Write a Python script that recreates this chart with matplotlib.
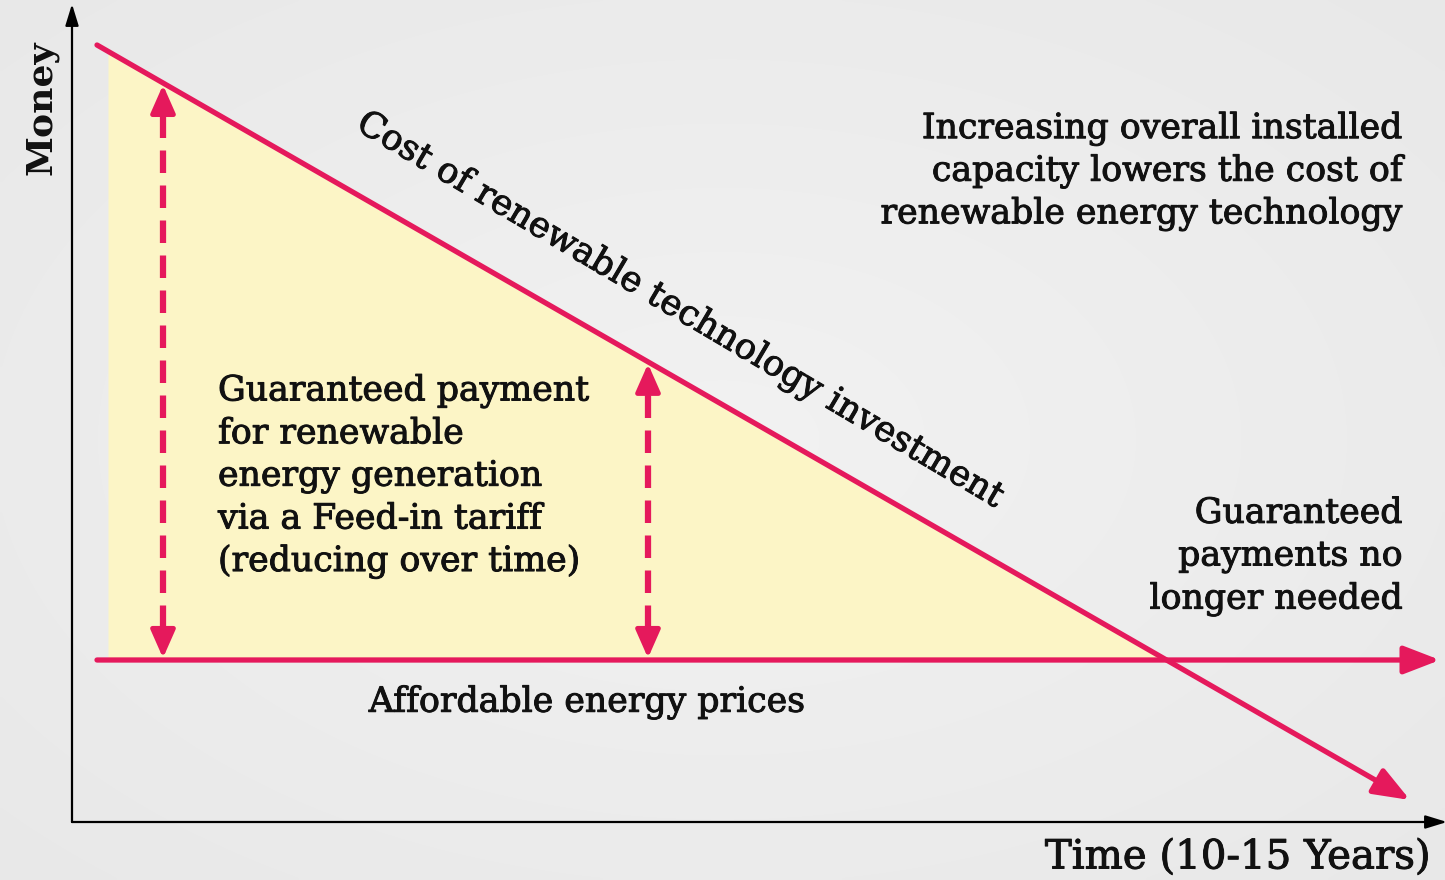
import matplotlib
matplotlib.use("Agg")
import matplotlib.pyplot as plt
import matplotlib.patheffects as pe
import numpy as np

# ---- data (time, money) in chart units; origin = axes origin ----
cost_time = [25, 1338]          # cost of renewable technology investment
cost_money = [777, 22]
price_time = [25, 1368]         # affordable energy price level
price_money = [162, 162]
fill_start_time = 36
payment_times = [91, 576]       # guaranteed payment arrows
x_max, y_max = 1373, 822

money_label = "Money"
time_label = "Time (10-15 Years)"
cost_label = "Cost of renewable technology investment"
capacity_text = "Increasing overall installed\ncapacity lowers the cost of\nrenewable energy technology"
payment_text = ("Guaranteed payment\nfor renewable\nenergy generation\n"
                "via a Feed-in tariff\n(reducing over time)")
no_longer_text = "Guaranteed\npayments no\nlonger needed"
price_label = "Affordable energy prices"

PINK = "#E5195C"
YELLOW = "#FCF5C6"
BG = "#EBEBEB"
FONT = "DejaVu Serif"

W, H = 1445, 880
fig = plt.figure(figsize=(W / 100, H / 100), dpi=100, facecolor=BG)

# subtle background gradient (lighter in the middle)
bg_ax = fig.add_axes([0, 0, 1, 1], zorder=-5)
gy, gx = np.mgrid[0:1:200j, 0:1:300j]
r = np.sqrt(((gx - 0.5) / 0.75) ** 2 + ((gy - 0.5) / 0.75) ** 2)
bg_ax.imshow(0.945 - 0.04 * r, cmap="gray", vmin=0, vmax=1, aspect="auto",
             extent=[0, 1, 0, 1], interpolation="bilinear")
bg_ax.axis("off")

ax = fig.add_axes([72 / W, 58 / H, (W - 72) / W, 822 / H])
ax.patch.set_alpha(0)
ax.set_xlim(0, x_max)
ax.set_ylim(0, y_max)
for s in ax.spines.values():
    s.set_visible(False)
ax.set_xticks([])
ax.set_yticks([])

def cost_at(t):
    return np.interp(t, cost_time, cost_money)

# intersection of cost line with price line
slope = (cost_money[1] - cost_money[0]) / (cost_time[1] - cost_time[0])
t_cross = cost_time[0] + (price_money[0] - cost_money[0]) / slope

tt = np.linspace(fill_start_time, t_cross, 200)
ax.fill_between(tt, price_money[0], cost_at(tt), color=YELLOW, lw=0, zorder=1)

# axes with arrows
for xy in ((0, y_max - 4), (x_max + 2, 0)):
    ax.annotate("", xy=xy, xytext=(0, 0),
                arrowprops=dict(arrowstyle="-|>,head_length=1.3,head_width=0.4",
                                color="black", lw=1.6, shrinkA=0, shrinkB=0),
                annotation_clip=False, zorder=3)

# cost line and price line
for (t0, t1), (m0, m1) in ((cost_time, cost_money), (price_time, price_money)):
    ax.annotate("", xy=(t1, m1), xytext=(t0, m0),
                arrowprops=dict(arrowstyle="-|>,head_length=2.2,head_width=0.85",
                                color=PINK, lw=3.8, shrinkA=0, shrinkB=0),
                annotation_clip=False, zorder=4)

# dashed double arrows
for t in payment_times:
    top = cost_at(t) - 2
    bot = price_money[0] + 2
    ax.plot([t, t], [bot + 30, top - 30], color=PINK, lw=4.5,
            dashes=(3.6, 2.0), solid_capstyle="butt", zorder=3)
    for a, b in ((top - 34, top), (bot + 34, bot)):
        ax.annotate("", xy=(t, b), xytext=(t, a),
                    arrowprops=dict(arrowstyle="-|>,head_length=1.7,head_width=0.75",
                                    color=PINK, lw=3.5, shrinkA=0, shrinkB=0),
                    zorder=3)

thick = [pe.withStroke(linewidth=0.7, foreground="#111111")]
txt = dict(family=FONT, color="#111111", path_effects=thick)
ax.text(-30, 714, money_label, rotation=90, ha="center", va="center",
        fontsize=26, fontweight="bold", family=FONT, color="#111111")
ax.text(1358, -36, time_label, ha="right", va="center", fontsize=29, **txt)
ax.text(608, 512, cost_label, rotation=-30.6, ha="center", va="center",
        fontsize=25.5, **txt)
ax.text(1331, 651, capacity_text, ha="right", va="center", fontsize=25,
        linespacing=1.3, **txt)
ax.text(146, 346, payment_text, ha="left", va="center", fontsize=25,
        linespacing=1.31, **txt)
ax.text(1331, 266, no_longer_text, ha="right", va="center", fontsize=25,
        linespacing=1.32, **txt)
ax.text(515, 120, price_label, ha="center", va="center", fontsize=25, **txt)

fig.savefig("out.png", dpi=100, facecolor=BG)
